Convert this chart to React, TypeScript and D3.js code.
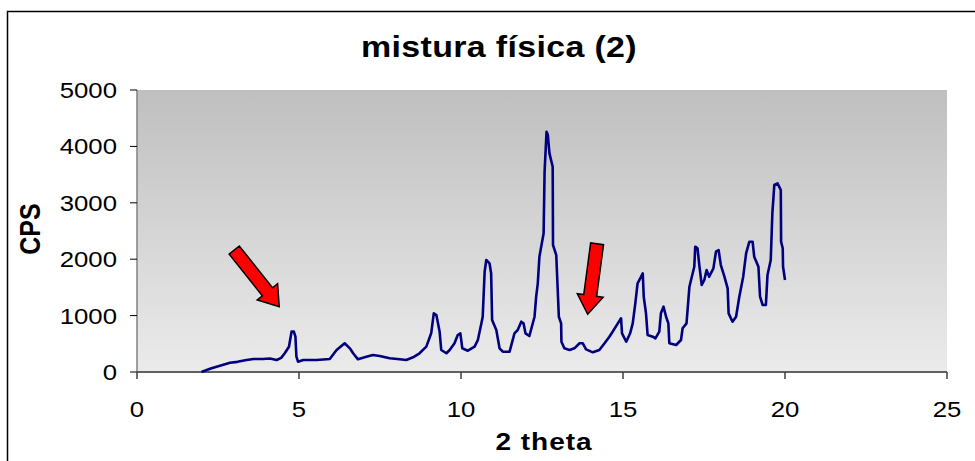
import React from "react";
import * as d3 from "d3";

// Diffractogram trace: 2θ (degrees) and counts per second
const twoTheta = [
  1.99, 2.15, 2.3, 2.56, 2.87, 3.1, 3.38, 3.6, 3.88, 4.1, 4.31, 4.45, 4.56, 4.69, 4.77, 4.84, 4.89, 4.92, 4.97,
  5.13, 5.54, 5.95, 6.16, 6.41, 6.57, 6.67, 6.82, 7.08, 7.28, 7.49, 7.8, 8.11, 8.31, 8.52, 8.72, 8.93, 9.08,
  9.16, 9.24, 9.29, 9.34, 9.39, 9.55, 9.65, 9.8, 9.9, 9.98, 10.04, 10.21, 10.42, 10.52, 10.63,
  10.67, 10.73, 10.78, 10.88, 10.93, 10.96, 11.09, 11.19, 11.29, 11.5, 11.65, 11.75, 11.86, 11.93, 11.99,
  12.11, 12.27, 12.32, 12.37, 12.42, 12.55, 12.58, 12.64, 12.68, 12.73, 12.83, 12.84, 12.94, 13.02, 13.09,
  13.1, 13.19, 13.35, 13.5, 13.66, 13.76, 13.86, 14.07, 14.27, 14.43, 14.58, 14.68, 14.84, 14.94, 14.97,
  15.1, 15.22, 15.3, 15.38, 15.45, 15.56, 15.61, 15.64, 15.71, 15.76, 15.92, 16.0, 16.12, 16.17, 16.25,
  16.33, 16.4, 16.43, 16.64, 16.79, 16.84, 16.96, 17.05, 17.2, 17.23, 17.3, 17.36, 17.43, 17.51, 17.58,
  17.66, 17.79, 17.87, 17.95, 18.02, 18.13, 18.23, 18.26, 18.38, 18.49, 18.59, 18.71, 18.8, 18.9, 19.0,
  19.05, 19.18, 19.23, 19.31, 19.41, 19.46, 19.56, 19.61, 19.67, 19.77, 19.87, 19.88, 19.93, 19.94, 20.0,
];
const cps = [
  0, 35, 66, 112, 165, 180, 213, 230, 230, 240, 213, 250, 332, 449, 715, 715, 626, 271, 183,
  213, 213, 230, 390, 509, 420, 332, 225, 271, 300, 284, 243, 225, 213, 260, 332, 449, 686,
  1040, 1010, 863, 715, 390, 332, 390, 509, 656, 686, 420, 378, 449, 567, 863,
  980, 1778, 1986, 1927, 1750, 922, 745, 420, 360, 360, 686, 745, 892, 863, 686,
  638, 980, 1335, 1573, 2044, 2459, 3551, 4260, 4202, 3877, 3640, 2252, 2074, 980, 863,
  537, 420, 390, 420, 509, 509, 402, 349, 390, 509, 626, 715, 863, 952, 686,
  537, 686, 863, 1218, 1573, 1690, 1750, 1335, 1040, 656, 626, 597, 715, 1040, 1158,
  980, 863, 509, 479, 567, 775, 863, 1512, 1867, 2222, 2193, 1867, 1543, 1631, 1808,
  1690, 1838, 2134, 2163, 1897, 1690, 1484, 1040, 892, 980, 1335, 1690, 2104, 2310, 2310,
  2044, 1867, 1335, 1188, 1188, 1720, 1986, 2814, 3316, 3345, 3227, 2310, 2193, 1867, 1631,
];

const xTicks = [0, 5, 10, 15, 20, 25];
const yTicks = [0, 1000, 2000, 3000, 4000, 5000];

// Annotation arrows: tail and tip in data units
const arrowTails = [
  [3.0, 2163],
  [14.2, 2273],
];
const arrowTips = [
  [4.39, 1158],
  [13.91, 1023],
];

const W = 975;
const H = 461;
const plot = { left: 137, right: 947, top: 90, bottom: 372 };
const FONT = "'Liberation Sans', Arial, sans-serif";
const SX = 1.17; // horizontal stretch of the lettering

function arrowPath(x1: number, y1: number, x2: number, y2: number) {
  const dx = x2 - x1;
  const dy = y2 - y1;
  const len = Math.hypot(dx, dy);
  const ux = dx / len;
  const uy = dy / len;
  const nx = -uy;
  const ny = ux;
  const shaft = 6.5;
  const head = 13;
  const headLen = 19;
  const bx = x2 - ux * headLen;
  const by = y2 - uy * headLen;
  const pts = [
    [x1 + nx * shaft, y1 + ny * shaft],
    [bx + nx * shaft, by + ny * shaft],
    [bx + nx * head, by + ny * head],
    [x2, y2],
    [bx - nx * head, by - ny * head],
    [bx - nx * shaft, by - ny * shaft],
    [x1 - nx * shaft, y1 - ny * shaft],
  ];
  return "M" + pts.map((p) => p.join(",")).join("L") + "Z";
}

export default function App() {
  const x = d3.scaleLinear().domain([0, 25]).range([plot.left, plot.right]);
  const y = d3.scaleLinear().domain([0, 5000]).range([plot.bottom, plot.top]);

  const points: [number, number][] = twoTheta.map((t, i) => [t, cps[i]]);
  const line = d3
    .line<[number, number]>()
    .x((d) => x(d[0]))
    .y((d) => y(d[1]));

  return (
    <svg
      width={W}
      height={H}
      style={{ position: "absolute", left: 0, top: 0, background: "#fff" }}
      fontFamily={FONT}
    >
      <defs>
        <linearGradient id="plotBg" x1="0" y1="0" x2="0" y2="1">
          <stop offset="0" stopColor="#bfbfbf" />
          <stop offset="1" stopColor="#ebebeb" />
        </linearGradient>
      </defs>

      {/* chart frame */}
      <rect x={7.5} y={11.5} width={1100} height={600} fill="#fff" stroke="#000" strokeWidth={1.5} />

      {/* title */}
      <text
        transform={`translate(499,57) scale(${SX},1)`}
        textAnchor="middle"
        fontSize={29}
        fontWeight="bold"
        letterSpacing={0.3}
      >
        mistura física (2)
      </text>

      {/* plot area */}
      <rect
        x={plot.left}
        y={plot.top}
        width={plot.right - plot.left}
        height={plot.bottom - plot.top}
        fill="url(#plotBg)"
      />

      {/* y axis */}
      <line x1={plot.left} x2={plot.left} y1={plot.top} y2={plot.bottom} stroke="#808080" strokeWidth={1.5} />
      {yTicks.map((v) => (
        <g key={"y" + v}>
          <line x1={plot.left - 7} x2={plot.left} y1={y(v)} y2={y(v)} stroke="#000" strokeWidth={1} />
          <text
            transform={`translate(${plot.left - 20},${y(v) + 8}) scale(${SX},1)`}
            textAnchor="end"
            fontSize={22}
          >
            {v}
          </text>
        </g>
      ))}

      {/* x axis */}
      <line x1={plot.left} x2={plot.right} y1={plot.bottom} y2={plot.bottom} stroke="#606060" strokeWidth={2} />
      {xTicks.map((v) => (
        <g key={"x" + v}>
          <line x1={x(v)} x2={x(v)} y1={plot.bottom} y2={plot.bottom + 7} stroke="#404040" strokeWidth={1.5} />
          <text
            transform={`translate(${x(v)},417) scale(${SX},1)`}
            textAnchor="middle"
            fontSize={22}
          >
            {v}
          </text>
        </g>
      ))}

      {/* axis titles */}
      <text
        transform={`translate(${(plot.left + plot.right) / 2 + 2},450) scale(${SX},1)`}
        textAnchor="middle"
        fontSize={24}
        fontWeight="bold"
        letterSpacing={0.8}
      >
        2 theta
      </text>
      <text
        transform={`translate(40,229) scale(${SX},1) rotate(-90)`}
        textAnchor="middle"
        fontSize={25}
        fontWeight="bold"
      >
        CPS
      </text>

      {/* trace */}
      <path d={line(points) ?? ""} fill="none" stroke="#000080" strokeWidth={2.6} strokeLinejoin="round" />

      {/* arrows */}
      {arrowTails.map((t, i) => (
        <path
          key={"a" + i}
          d={arrowPath(x(t[0]), y(t[1]), x(arrowTips[i][0]), y(arrowTips[i][1]))}
          fill="#ff0000"
          stroke="#000"
          strokeWidth={1.5}
          strokeLinejoin="miter"
        />
      ))}
    </svg>
  );
}
